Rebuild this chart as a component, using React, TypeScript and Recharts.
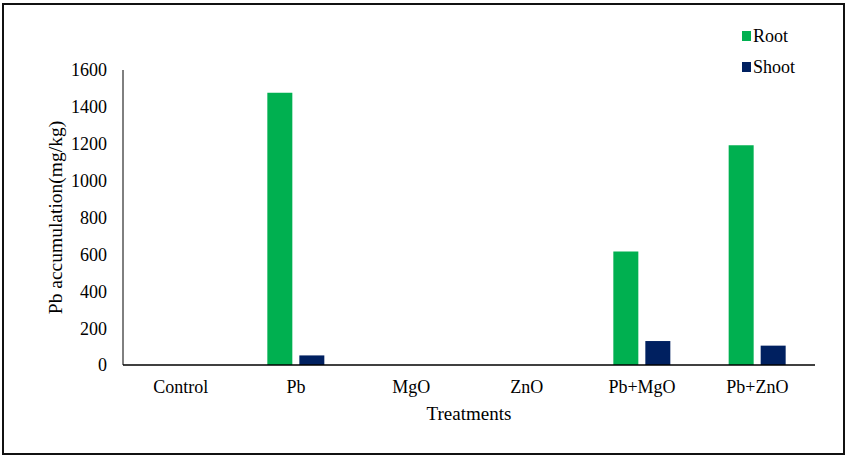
import React from "react";
import { BarChart, Bar, XAxis, YAxis } from "recharts";

const categories = ["Control", "Pb", "MgO", "ZnO", "Pb+MgO", "Pb+ZnO"];
const rootValues = [0, 1476, 0, 0, 616, 1192];
const shootValues = [0, 52, 0, 0, 130, 105];
const yTicks = [0, 200, 400, 600, 800, 1000, 1200, 1400, 1600];
const seriesNames = ["Root", "Shoot"];
const seriesColors = ["#00B050", "#002060"];

const data = categories.map((c, i) => ({ name: c, Root: rootValues[i], Shoot: shootValues[i] }));

const FONT = "'Liberation Serif', 'Times New Roman', serif";

export default function App() {
  return (
    <div style={{ position: "absolute", left: 0, top: 0, width: 847, height: 458, background: "#fff", fontFamily: FONT }}>
      <div
        style={{
          position: "absolute",
          left: 2,
          top: 3,
          width: 843,
          height: 452,
          boxSizing: "border-box",
          border: "2px solid #111",
        }}
      />
      <div style={{ position: "absolute", left: 742, top: 25, fontFamily: FONT, fontSize: 18, color: "#000", lineHeight: "22px" }}>
        {seriesNames.map((n, i) => (
          <div key={n} style={{ display: "flex", alignItems: "center", height: 22, marginBottom: i === 0 ? 9 : 0 }}>
            <span style={{ display: "inline-block", width: 9, height: 10, background: seriesColors[i], marginRight: 2 }} />
            <span>{n}</span>
          </div>
        ))}
      </div>
      <div style={{ position: "absolute", left: 0, top: 0 }}>
        <BarChart
          width={847}
          height={458}
          data={data}
          margin={{ top: 70, right: 32, bottom: 0, left: 0 }}
          barSize={25}
          barGap={7}
        >
          <XAxis
            dataKey="name"
            tickLine={false}
            axisLine={{ stroke: "#000", strokeWidth: 1.5 }}
            tick={{ fill: "#000", fontFamily: FONT, fontSize: 18 }}
            tickMargin={9}
            height={93}
            label={{ value: "Treatments", position: "insideTop", offset: 42, fill: "#000", fontFamily: FONT, fontSize: 19 }}
          />
          <YAxis
            domain={[0, 1600]}
            ticks={yTicks}
            interval={0}
            tickLine={false}
            axisLine={{ stroke: "#000", strokeWidth: 1 }}
            tick={{ fill: "#000", fontFamily: FONT, fontSize: 18 }}
            tickMargin={10}
            width={123}
            label={{
              value: "Pb accumulation(mg/kg)",
              angle: -90,
              position: "insideLeft",
              offset: 55,
              fill: "#000",
              fontFamily: FONT,
              fontSize: 19.5,
              style: { textAnchor: "middle" },
            }}
          />
          {seriesNames.map((n, i) => (
            <Bar key={n} dataKey={n} fill={seriesColors[i]} isAnimationActive={false} />
          ))}
        </BarChart>
      </div>
    </div>
  );
}
